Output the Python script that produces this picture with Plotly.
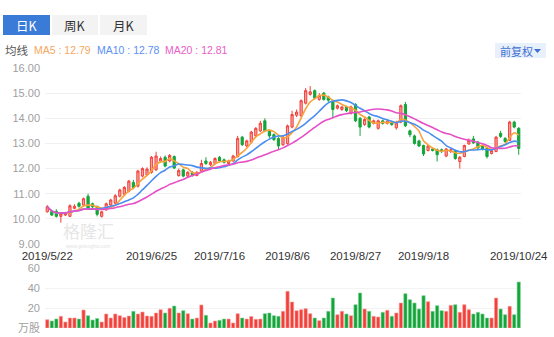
import pandas as pd
import plotly.graph_objects as go

# ---------------------------------------------------------------- data
holidays = ["2019-06-07", "2019-09-13", "2019-10-01", "2019-10-02",
            "2019-10-03", "2019-10-04", "2019-10-07"]
trade_days = [d for d in pd.bdate_range("2019-05-22", "2019-10-24")
              if d.strftime("%Y-%m-%d") not in holidays]
dates = [f"{d.year}/{d.month}/{d.day}" for d in trade_days]

open_ = [10.28, 10.30, 10.30, 10.10, 10.15, 10.10, 10.42, 10.62, 10.55, 10.90,
         10.60, 10.50, 10.10, 10.36, 10.55, 10.62, 10.90, 10.98, 11.10, 11.45,
         11.30, 11.70, 11.75, 11.85, 11.95, 12.30, 12.45, 12.30, 12.48, 11.72,
         11.95, 11.70, 11.85, 11.72, 11.90, 12.30, 12.15, 12.20, 12.45, 12.35,
         12.20, 12.30, 12.47, 13.25, 12.90, 13.05, 13.30, 13.50, 13.90, 13.50,
         13.35, 13.20, 12.95, 13.00, 13.65, 14.12, 14.10, 14.60, 14.95, 15.10,
         14.75, 15.00, 14.85, 14.70, 14.40, 14.35, 14.45, 14.20, 14.55, 14.00,
         13.75, 14.05, 13.80, 13.60, 13.90, 13.80, 13.85, 13.62, 13.85, 14.55,
         13.50, 13.30, 13.10, 12.92, 12.72, 12.78, 12.75, 12.75, 12.50, 12.68,
         12.72, 12.28, 12.48, 12.98, 13.18, 13.05, 12.92, 12.80, 12.60, 12.68,
         13.40, 13.20, 13.12, 13.85, 13.60]
high = [10.55, 10.35, 10.38, 10.25, 10.28, 10.58, 10.58, 10.68, 10.85, 11.00,
        10.65, 10.52, 10.32, 10.65, 10.80, 10.98, 11.20, 11.30, 11.55, 11.55,
        11.95, 12.05, 12.05, 12.50, 12.67, 12.48, 12.52, 12.58, 12.52, 12.00,
        12.00, 11.90, 11.90, 11.90, 12.35, 12.45, 12.30, 12.45, 12.50, 12.40,
        12.35, 12.55, 13.30, 13.30, 13.15, 13.50, 13.65, 13.90, 14.00, 13.55,
        13.40, 13.25, 13.30, 13.75, 14.30, 14.35, 14.75, 15.20, 15.28, 15.15,
        15.00, 15.05, 14.90, 14.75, 14.55, 14.50, 14.50, 14.50, 14.60, 14.05,
        14.00, 14.10, 13.95, 13.95, 13.95, 13.95, 13.90, 13.90, 14.55, 14.65,
        13.55, 13.35, 13.15, 12.95, 12.95, 12.82, 12.80, 12.80, 12.82, 12.80,
        12.75, 12.50, 12.95, 13.20, 13.30, 13.10, 12.95, 12.82, 12.76, 13.30,
        13.50, 13.25, 13.90, 13.90, 13.65]
low = [10.25, 10.12, 10.05, 9.85, 10.12, 10.08, 10.38, 10.45, 10.50, 10.38,
       10.42, 10.10, 10.05, 10.32, 10.50, 10.58, 10.85, 10.92, 11.05, 11.18,
       11.25, 11.65, 11.70, 11.80, 11.90, 12.25, 12.05, 12.25, 11.98, 11.68,
       11.65, 11.65, 11.68, 11.70, 11.85, 12.15, 12.10, 12.18, 12.25, 12.20,
       12.15, 12.28, 12.45, 12.90, 12.85, 13.00, 13.25, 13.45, 13.45, 13.20,
       13.10, 12.75, 12.90, 12.95, 13.60, 14.05, 14.05, 14.55, 14.90, 14.75,
       14.70, 14.70, 14.65, 14.00, 14.35, 14.30, 14.25, 14.15, 13.85, 13.30,
       13.70, 13.60, 13.75, 13.55, 13.75, 13.75, 13.70, 13.55, 13.80, 13.65,
       13.25, 12.95, 12.85, 12.50, 12.68, 12.68, 12.28, 12.62, 12.45, 12.62,
       12.35, 12.00, 12.45, 12.95, 12.98, 12.78, 12.72, 12.40, 12.56, 12.65,
       13.22, 13.02, 13.10, 13.60, 12.55]
close = [10.48, 10.15, 10.10, 10.20, 10.22, 10.52, 10.50, 10.50, 10.80, 10.42,
         10.48, 10.18, 10.28, 10.60, 10.75, 10.92, 11.15, 11.25, 11.50, 11.25,
         11.90, 12.00, 11.98, 12.45, 12.50, 12.40, 12.10, 12.52, 12.02, 11.92,
         11.70, 11.85, 11.72, 11.85, 12.20, 12.20, 12.25, 12.40, 12.30, 12.25,
         12.30, 12.50, 13.20, 12.95, 13.10, 13.45, 13.60, 13.80, 13.50, 13.30,
         13.15, 12.90, 13.25, 13.70, 14.15, 14.25, 14.70, 15.10, 15.05, 14.80,
         14.90, 14.75, 14.72, 14.35, 14.50, 14.45, 14.30, 14.45, 13.90, 13.65,
         13.95, 13.65, 13.90, 13.90, 13.80, 13.88, 13.75, 13.82, 14.50, 13.70,
         13.35, 13.00, 12.90, 12.58, 12.90, 12.72, 12.55, 12.68, 12.78, 12.75,
         12.40, 12.45, 12.92, 13.12, 13.02, 12.82, 12.76, 12.48, 12.72, 13.25,
         13.28, 13.08, 13.85, 13.65, 12.80]
volume = [8.3, 7, 9, 11.7, 6, 10, 10, 9, 18, 12.3,
          8, 9.5, 6, 14, 10, 14, 12.3, 10.5, 12, 16.7,
          14, 16, 12, 11.7, 15, 18.3, 15, 19.7, 22, 15,
          17.3, 14.3, 9, 10, 23, 12.7, 5, 7, 7.7, 9,
          9, 5, 14.3, 10, 9, 11.5, 8.7, 9, 14.3, 15,
          12.3, 11.7, 16.7, 36.7, 26, 17.3, 18.3, 19.3, 14.3, 10,
          7.3, 10, 16.7, 30, 13.3, 16.7, 14, 12.3, 23.3, 35,
          19, 16.7, 11.7, 11, 15.7, 17.7, 11.7, 15, 25, 34.3,
          28.3, 25, 19, 32.3, 26.3, 16.7, 22.3, 17.3, 16.7, 22.7,
          23.3, 15.7, 23.3, 18.3, 14, 15.7, 14, 10, 10, 30,
          19, 13.3, 21.7, 13.3, 46]

date_ticks = ["2019/5/22", "2019/6/25", "2019/7/16", "2019/8/6",
              "2019/8/27", "2019/9/18", "2019/10/24"]
price_ticks = [9, 10, 11, 12, 13, 14, 15, 16]
volume_ticks = [0, 20, 40, 60]
volume_tick_text = ["万股", "20", "40", "60"]

ma_periods = [5, 10, 20]
ma_names = ["MA5", "MA10", "MA20"]
ma_legend_values = [12.79, 12.78, 12.81]
period_tabs = ["日K", "周K", "月K"]

assert len(dates) == len(close) == len(open_) == len(high) == len(low) == len(volume)

# ---------------------------------------------------------------- style
W, H = 554, 337
UP, UP_FILL, DOWN = "#f2403a", "#f7a3a0", "#14a53a"
MA_COLORS = ["#f8a23c", "#4a8ef2", "#e64fc6"]
MA_TEXT = ["#f6a760", "#5b90f5", "#e85ec8"]
LATIN = "Liberation Sans, Arial, Noto Sans CJK SC, sans-serif"
CJK = "Noto Sans CJK SC, sans-serif"

PLOT_L, PLOT_R = 45, 521
PRICE_TOP, PRICE_BOT = 68, 244
VOL_TOP, VOL_BOT = 268, 328


def fx(x):
    return x / W


def fy(y):
    return 1 - y / H


fig = go.Figure()

fig.add_trace(go.Candlestick(
    x=dates, open=open_, high=high, low=low, close=close,
    increasing=dict(line=dict(color=UP, width=1), fillcolor=UP_FILL),
    decreasing=dict(line=dict(color=DOWN, width=1), fillcolor=DOWN),
    whiskerwidth=0, hoverinfo="skip", showlegend=False,
    xaxis="x", yaxis="y",
))

close_s = pd.Series(close)
for n, color in zip(ma_periods, MA_COLORS):
    fig.add_trace(go.Scatter(
        x=dates, y=close_s.rolling(n, min_periods=1).mean().round(3),
        mode="lines", line=dict(color=color, width=1.6, shape="spline", smoothing=0.6),
        hoverinfo="skip", showlegend=False, xaxis="x", yaxis="y",
    ))

bar_colors = [UP if c >= o else DOWN for o, c in zip(open_, close)]
bar_edges = ["#f7a09c" if c >= o else "#7fd197" for o, c in zip(open_, close)]
fig.add_trace(go.Bar(
    x=dates, y=volume, marker=dict(color=bar_colors, line=dict(color=bar_edges, width=0.6)),
    hoverinfo="skip", showlegend=False, xaxis="x2", yaxis="y2",
))

x_common = dict(
    domain=[fx(PLOT_L), fx(PLOT_R)], type="category", categoryorder="array",
    categoryarray=dates, range=[-0.5, len(dates) - 0.5], automargin=False,
    showgrid=False, zeroline=False, showline=False, ticks="", fixedrange=True,
)

fig.update_layout(
    width=W, height=H, margin=dict(l=0, r=0, t=0, b=0, pad=0), autosize=False,
    paper_bgcolor="white", plot_bgcolor="white",
    bargap=0.28, showlegend=False, hovermode=False,
    xaxis=dict(**x_common, anchor="y", tickvals=date_ticks, ticktext=date_ticks,
               tickfont=dict(family=LATIN, size=11.5, color="#333333"),
               ticklabelstandoff=3, rangeslider=dict(visible=False)),
    yaxis=dict(domain=[fy(PRICE_BOT), fy(PRICE_TOP)], range=[9, 16], anchor="x",
               tickvals=price_ticks, tickformat=".2f", gridcolor="#f0f0f0", gridwidth=1,
               zeroline=False, showline=False, ticks="", fixedrange=True, automargin=False,
               tickfont=dict(family=LATIN, size=11, color="#a0a0a0"), ticklabelstandoff=4),
    xaxis2=dict(**x_common, anchor="y2", showticklabels=False),
    yaxis2=dict(domain=[fy(VOL_BOT), fy(VOL_TOP)], range=[0, 60], anchor="x2",
                tickvals=volume_ticks, ticktext=volume_tick_text, gridcolor="#f3f3f3",
                zeroline=False, showline=False, ticks="", fixedrange=True, automargin=False,
                tickfont=dict(family=LATIN, size=11, color="#a0a0a0"), ticklabelstandoff=4),
)

shapes = []
annotations = []

# period tabs
tab_x = [(3, 50), (52, 98), (100, 147)]
for i, (label, (x0, x1)) in enumerate(zip(period_tabs, tab_x)):
    active = i == 0
    shapes.append(dict(type="rect", xref="paper", yref="paper",
                       x0=fx(x0), x1=fx(x1), y0=fy(35), y1=fy(15), layer="below",
                       fillcolor="#3a7bd8" if active else "#f3f3f3", line=dict(width=0)))
    annotations.append(dict(text=label, xref="paper", yref="paper",
                            x=fx((x0 + x1) / 2), y=fy(25), showarrow=False,
                            xanchor="center", yanchor="middle",
                            font=dict(family=CJK, size=12.5,
                                      color="white" if active else "#333333")))

# moving-average legend line
annotations.append(dict(text="均线", xref="paper", yref="paper", x=fx(3), y=fy(50),
                        xanchor="left", yanchor="middle", showarrow=False,
                        font=dict(family=CJK, size=11.5, color="#555555")))
for name, val, color, x in zip(ma_names, ma_legend_values, MA_TEXT, [32, 95, 163]):
    annotations.append(dict(text=f"{name} : {val:.2f}", xref="paper", yref="paper",
                            x=fx(x), y=fy(50), xanchor="left", yanchor="middle",
                            showarrow=False, font=dict(family=LATIN, size=10.5, color=color)))

# adjustment selector
shapes.append(dict(type="rect", xref="paper", yref="paper", x0=fx(495), x1=fx(546),
                   y0=fy(58), y1=fy(43), fillcolor="#e8f0fc", line=dict(width=0), layer="below"))
annotations.append(dict(text="前复权", xref="paper", yref="paper", x=fx(498), y=fy(50.5),
                        xanchor="left", yanchor="middle", showarrow=False,
                        font=dict(family=CJK, size=11, color="#3d6fd2")))
shapes.append(dict(type="path", xref="paper", yref="paper",
                   path=f"M {fx(534)} {fy(49)} L {fx(541)} {fy(49)} L {fx(537.5)} {fy(53)} Z",
                   fillcolor="#3d6fd2", line=dict(width=0)))

# watermark
annotations.append(dict(text="格隆汇", xref="paper", yref="paper", x=fx(88), y=fy(230),
                        xanchor="center", yanchor="middle", showarrow=False,
                        font=dict(family=CJK, size=17, color="#e6e6e6")))
annotations.append(dict(text="www.gelonghui.com", xref="paper", yref="paper", x=fx(88),
                        y=fy(245.5), xanchor="center", yanchor="middle", showarrow=False,
                        font=dict(family=LATIN, size=5, color="#e3e3e3")))

fig.update_layout(shapes=shapes, annotations=annotations)

fig.write_html("out.html", config={"displayModeBar": False, "staticPlot": True})
